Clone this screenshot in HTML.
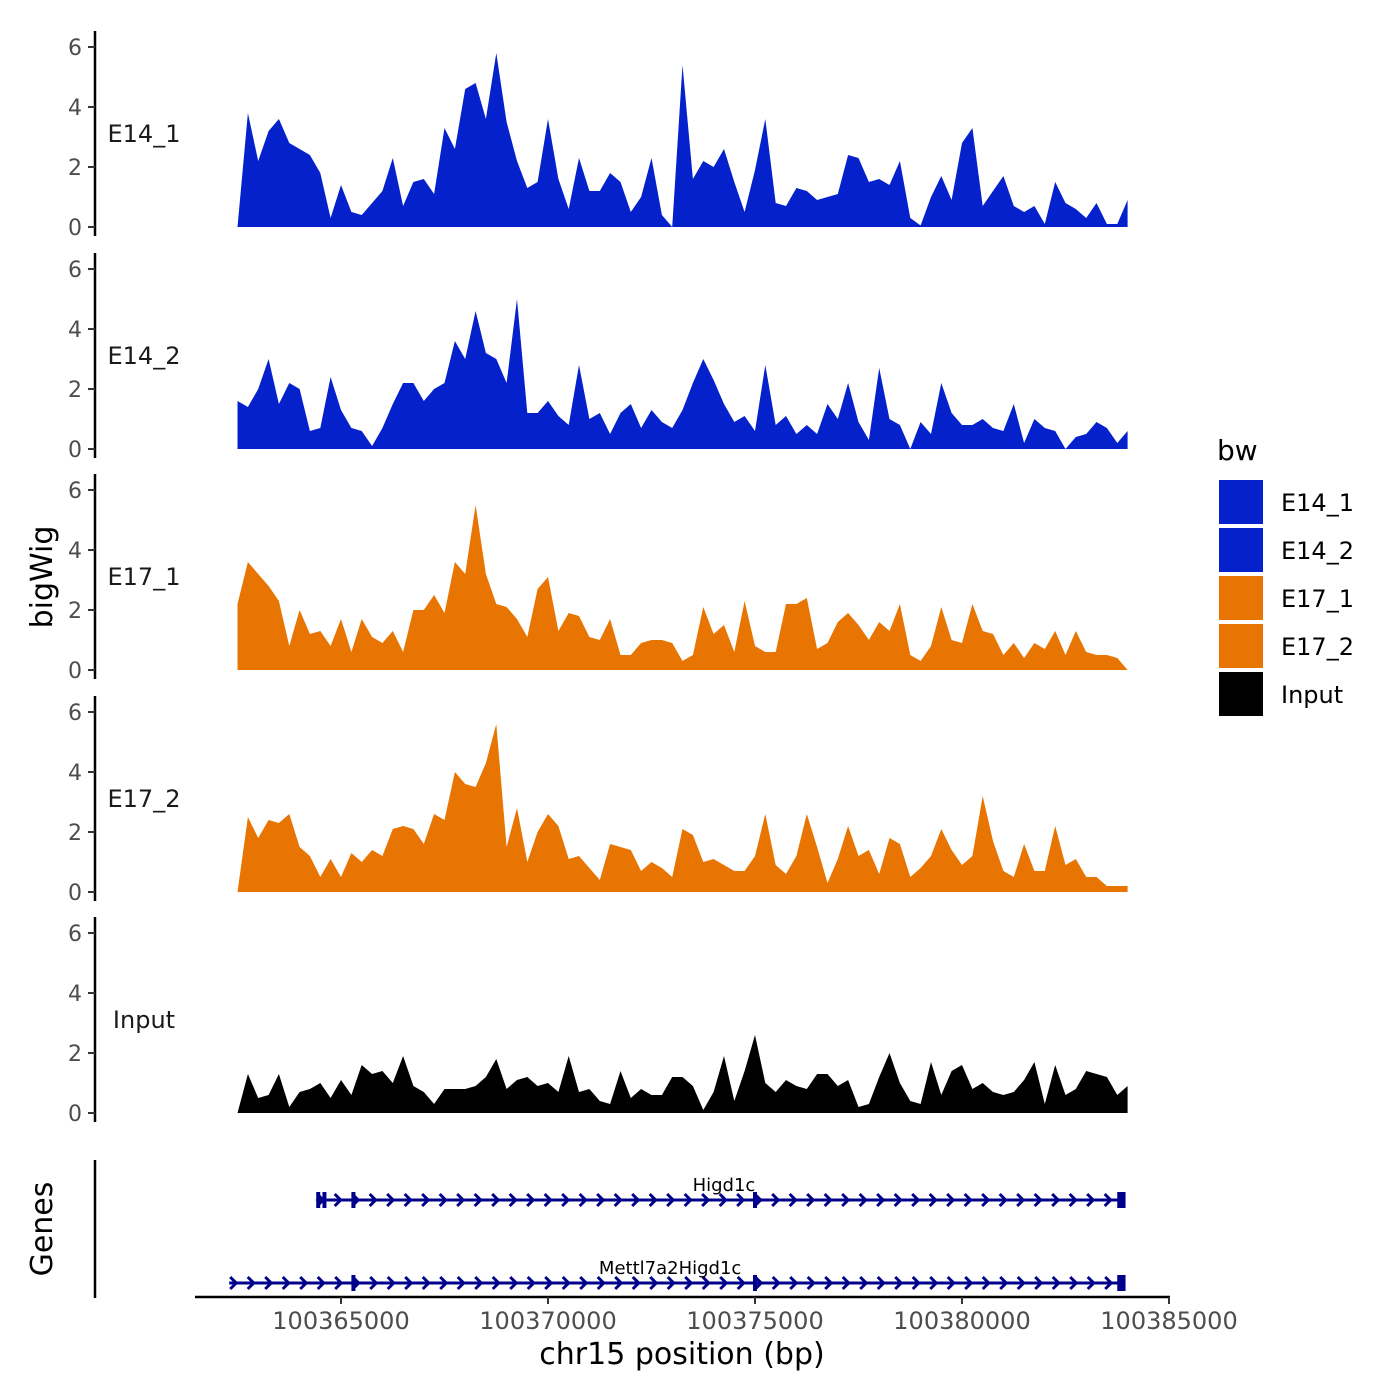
<!DOCTYPE html>
<html><head><meta charset="utf-8"><title>bigWig tracks</title>
<style>
html,body{margin:0;padding:0;background:#fff;}
svg{display:block;font-family:"DejaVu Sans","Liberation Sans",sans-serif;}
</style></head>
<body>
<svg id="chart" width="1400" height="1400" viewBox="0 0 1400 1400" xmlns="http://www.w3.org/2000/svg">
<g id="tracks"></g>
<g id="genes"></g>
<g id="xaxis"></g>
<text x="52" y="577" font-size="30" text-anchor="middle" transform="rotate(-90 52 577)">bigWig</text>
<text x="52" y="1229" font-size="30" text-anchor="middle" transform="rotate(-90 52 1229)">Genes</text>
<text x="682" y="1364" font-size="30" text-anchor="middle">chr15 position (bp)</text>
<g id="legend"></g>
</svg>
<script>
const trackNames = ["E14_1","E14_2","E17_1","E17_2","Input"];
const trackColors = ["#0521CC","#0521CC","#E87502","#E87502","#000000"];
const posStart = 100362500;
const posStep = 250;
const yTicks = [0,2,4,6];
const xTicks = [100365000,100370000,100375000,100380000,100385000];
const xTickLabels = ["100365000","100370000","100375000","100380000","100385000"];
const e14_1 = [0,3.8,2.2,3.2,3.6,2.8,2.6,2.4,1.8,0.3,1.4,0.5,0.4,0.8,1.2,2.3,0.7,1.5,1.6,1.1,3.3,2.6,4.6,4.8,3.6,5.8,3.5,2.2,1.3,1.5,3.6,1.6,0.6,2.3,1.2,1.2,1.8,1.5,0.5,1.0,2.3,0.4,0,5.4,1.6,2.2,2.0,2.6,1.5,0.5,1.9,3.6,0.8,0.7,1.3,1.2,0.9,1.0,1.1,2.4,2.3,1.5,1.6,1.4,2.2,0.3,0.05,1.0,1.7,0.9,2.8,3.3,0.7,1.2,1.7,0.7,0.5,0.7,0.1,1.5,0.8,0.6,0.3,0.8,0.1,0.1,0.9];
const e14_2 = [1.6,1.4,2.0,3.0,1.5,2.2,2.0,0.6,0.7,2.4,1.3,0.7,0.6,0.1,0.7,1.5,2.2,2.2,1.6,2.0,2.2,3.6,3.0,4.6,3.2,3.0,2.2,5.0,1.2,1.2,1.6,1.1,0.8,2.8,1.0,1.2,0.5,1.2,1.5,0.7,1.3,0.9,0.7,1.3,2.2,3.0,2.3,1.5,0.9,1.1,0.6,2.8,0.8,1.1,0.5,0.8,0.5,1.5,1.0,2.2,0.9,0.3,2.7,1.0,0.8,0,0.9,0.5,2.2,1.2,0.8,0.8,1.0,0.7,0.6,1.5,0.2,1.0,0.7,0.6,0,0.4,0.5,0.9,0.7,0.2,0.6];
const e17_1 = [2.2,3.6,3.2,2.8,2.3,0.8,2.0,1.2,1.3,0.8,1.7,0.6,1.7,1.1,0.9,1.3,0.6,2.0,2.0,2.5,1.9,3.6,3.2,5.5,3.2,2.2,2.1,1.7,1.1,2.7,3.1,1.3,1.9,1.8,1.1,1.0,1.7,0.5,0.5,0.9,1.0,1.0,0.9,0.3,0.5,2.1,1.2,1.5,0.6,2.3,0.8,0.6,0.6,2.2,2.2,2.4,0.7,0.9,1.6,1.9,1.5,1.0,1.6,1.3,2.2,0.5,0.3,0.8,2.1,1.0,0.9,2.2,1.3,1.2,0.5,0.9,0.4,0.9,0.7,1.3,0.5,1.3,0.6,0.5,0.5,0.4,0];
const e17_2 = [0,2.5,1.8,2.4,2.3,2.6,1.5,1.2,0.5,1.1,0.5,1.3,1.0,1.4,1.2,2.1,2.2,2.1,1.6,2.6,2.4,4.0,3.6,3.5,4.3,5.6,1.5,2.8,1.0,2.0,2.6,2.2,1.1,1.2,0.8,0.4,1.6,1.5,1.4,0.7,1.0,0.8,0.5,2.1,1.9,1.0,1.1,0.9,0.7,0.7,1.2,2.6,0.9,0.6,1.2,2.6,1.5,0.3,1.1,2.2,1.2,1.4,0.6,1.8,1.6,0.5,0.8,1.2,2.1,1.4,0.9,1.2,3.2,1.7,0.7,0.5,1.6,0.7,0.7,2.2,0.9,1.1,0.5,0.5,0.2,0.2,0.2];
const inputTrack = [0,1.3,0.5,0.6,1.3,0.2,0.7,0.8,1.0,0.5,1.1,0.6,1.6,1.3,1.4,1.0,1.9,0.9,0.7,0.3,0.8,0.8,0.8,0.9,1.2,1.8,0.8,1.1,1.2,0.9,1.0,0.7,1.9,0.7,0.8,0.4,0.3,1.4,0.5,0.8,0.6,0.6,1.2,1.2,0.9,0.1,0.7,1.9,0.4,1.4,2.6,1.0,0.7,1.1,0.9,0.8,1.3,1.3,0.9,1.1,0.2,0.3,1.2,2.0,1.0,0.4,0.3,1.7,0.6,1.4,1.6,0.8,1.0,0.7,0.6,0.7,1.1,1.7,0.3,1.6,0.6,0.8,1.4,1.3,1.2,0.6,0.9];
const trackValues = [e14_1,e14_2,e17_1,e17_2,inputTrack];
const geneNames = ["Higd1c","Mettl7a2Higd1c"];
const geneStarts = [100364400,100362300];
const geneEnds = [100383950,100383950];
const geneExons = [[100364450,100364600,100365300,100375000],[100365300,100375000]];
const geneLastExonStart = [100383750,100383750];
const geneLabelPos = [100374250,100372950];

const NS = "http://www.w3.org/2000/svg";
function mk(tag, attrs, parent){const e=document.createElementNS(NS,tag);for(const k in attrs)e.setAttribute(k,attrs[k]);parent.appendChild(e);return e;}
function xScale(bp){return 341 + (bp-100365000)*0.0414;}
const panelZero = [227,449,670,892,1113];
function yScale(v,p){return panelZero[p] - v*30;}

const tracks = document.getElementById("tracks");
trackValues.forEach((vals,p)=>{
  const g = mk("g",{},tracks);
  
  
  let d = "M"+xScale(posStart).toFixed(1)+","+yScale(0,p);
  vals.forEach((v,i)=>{ d += " L"+xScale(posStart+i*posStep).toFixed(1)+","+yScale(v,p).toFixed(1); });
  d += " L"+xScale(posStart+(vals.length-1)*posStep).toFixed(1)+","+yScale(0,p)+" Z";
  const area = mk("path",{d:d,fill:trackColors[p]},g);
  
  
  const ax = mk("line",{x1:95,x2:95,y1:yScale(6,p)-16,y2:yScale(0,p)+9,stroke:"#000","stroke-width":2.5},g);
  
  
  yTicks.forEach(t=>{
    mk("line",{x1:88,x2:95,y1:yScale(t,p),y2:yScale(t,p),stroke:"#333","stroke-width":2},g);
    const tl = mk("text",{x:82,y:yScale(t,p)+8,"font-size":22,fill:"#4d4d4d","text-anchor":"end"},g);
    tl.textContent = t;
    
    
  });
  const lab = mk("text",{x:144,y:yScale(3,p)+5,"font-size":24,fill:"#1a1a1a","text-anchor":"middle"},g);
  lab.textContent = trackNames[p];
  
  
});

const genes = document.getElementById("genes");
const gax = mk("line",{x1:95,x2:95,y1:1160,y2:1298,stroke:"#000","stroke-width":2.5},genes);


const geneY = [1200,1283];
geneNames.forEach((n,gi)=>{
  const g = mk("g",{},genes);
  
  
  const y = geneY[gi], x1 = xScale(geneStarts[gi]), x2 = xScale(geneEnds[gi]);
  mk("line",{x1:x1,x2:x2,y1:y,y2:y,stroke:"#00008B","stroke-width":3},g);
  for(let x=x1+4;x<x2-6;x+=17.5){
    mk("path",{d:"M"+(x-3)+","+(y-6)+" L"+(x+3)+","+y+" L"+(x-3)+","+(y+6),fill:"none",stroke:"#00008B","stroke-width":3},g);
  }
  geneExons[gi].forEach(e=>{ mk("rect",{x:xScale(e)-2,y:y-8,width:4,height:16,fill:"#00008B"},g); });
  const le = xScale(geneLastExonStart[gi]);
  mk("rect",{x:le,y:y-8,width:x2-le,height:16,fill:"#00008B"},g);
  const t = mk("text",{x:xScale(geneLabelPos[gi]),y:y-9,"font-size":18,"text-anchor":"middle",fill:"#000"},g);
  t.textContent = n;
  
  
});

const xaxis = document.getElementById("xaxis");
mk("line",{x1:195,x2:1170,y1:1297,y2:1297,stroke:"#000","stroke-width":2.5},xaxis);
xTicks.forEach((t,i)=>{
  mk("line",{x1:xScale(t),x2:xScale(t),y1:1297,y2:1304,stroke:"#333","stroke-width":2},xaxis);
  const tl = mk("text",{x:xScale(t),y:1329,"font-size":24,fill:"#4d4d4d","text-anchor":"middle"},xaxis);
  tl.textContent = xTickLabels[i];
  
  
});

const legend = document.getElementById("legend");
const lt = mk("text",{x:1217,y:460,"font-size":28,fill:"#000"},legend);
lt.textContent = "bw";


trackNames.forEach((n,i)=>{
  const g = mk("g",{},legend);
  
  
  mk("rect",{x:1219,y:480+i*48,width:44,height:44,fill:trackColors[i]},g);
  const t = mk("text",{x:1281,y:511+i*48,"font-size":24,fill:"#000"},g);
  t.textContent = n;
});
</script>
</body></html>
